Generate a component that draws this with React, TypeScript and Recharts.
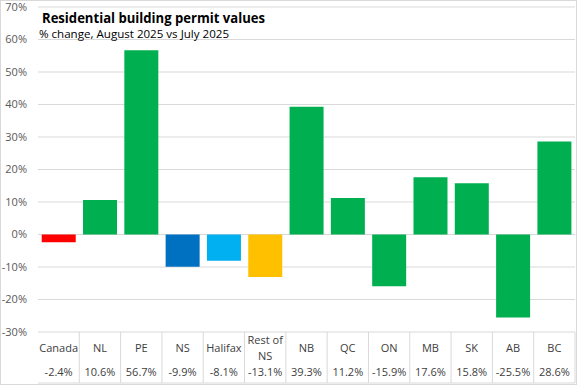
import { BarChart, Bar, XAxis, YAxis, CartesianGrid, Cell } from 'recharts';

// categories and % change values
const regions = ['Canada', 'NL', 'PE', 'NS', 'Halifax', 'Rest of NS', 'NB', 'QC', 'ON', 'MB', 'SK', 'AB', 'BC'];
const changes = [-2.4, 10.6, 56.7, -9.9, -8.1, -13.1, 39.3, 11.2, -15.9, 17.6, 15.8, -25.5, 28.6];
const barColors = ['#ff0000', '#00b050', '#00b050', '#0070c0', '#00b0f0', '#ffc000', '#00b050', '#00b050', '#00b050', '#00b050', '#00b050', '#00b050', '#00b050'];
const yTicks = [-30, -20, -10, 0, 10, 20, 30, 40, 50, 60, 70];

const W = 577;
const H = 385;
const LEFT = 38;
const RIGHT = 2;
const AXIS_H = 53;
const FONT = '"Open Sans", "Noto Sans", sans-serif';

const data = regions.map((name, i) => ({ name, value: changes[i], color: barColors[i] }));
const band = (W - LEFT - RIGHT) / regions.length;
const PLOT_BOTTOM = H - AXIS_H;

// two row table under the plot: region name, then the value
const TableTick = ({ x, payload, index }: any) => {
  const name: string = payload.value;
  const top = PLOT_BOTTOM;
  const lines = name === 'Rest of NS' ? ['Rest of', 'NS'] : [name];
  const v = changes[index];
  return (
    <g>
      <line x1={x + band / 2} x2={x + band / 2} y1={top} y2={top + 51} stroke="#d9d9d9" />
      {index === 0 && <line x1={x - band / 2} x2={W - RIGHT} y1={top + 51} y2={top + 51} stroke="#d9d9d9" />}
      {lines.map((l, k) => (
        <text key={k} x={x} y={top + (lines.length === 2 ? 12 + k * 16 : 20)} textAnchor="middle" fontSize={11} fill="#404040" fontFamily={FONT}>
          {l}
        </text>
      ))}
      <text x={x} y={top + 44} textAnchor="middle" fontSize={11} fill="#404040" fontFamily={FONT}>
        {`${v.toFixed(1)}%`}
      </text>
    </g>
  );
};

export default function App() {
  return (
    <div style={{ position: 'absolute', left: 0, top: 0, width: W, height: H, background: '#fff' }}>
      <BarChart
        width={W}
        height={H}
        data={data}
        margin={{ top: 7, right: RIGHT, bottom: 0, left: 0 }}
        barCategoryGap="9%"
      >
        <CartesianGrid vertical={false} stroke="#d9d9d9" />
        <XAxis
          dataKey="name"
          height={AXIS_H}
          axisLine={false}
          tickLine={false}
          interval={0}
          tick={<TableTick />}
        />
        <YAxis
          width={LEFT}
          domain={[-30, 70]}
          ticks={yTicks}
          axisLine={false}
          tickLine={false}
          tickMargin={5}
          tickFormatter={(v: number) => `${v}%`}
          tick={{ fontSize: 11, fill: '#595959', fontFamily: FONT }}
        />
        <Bar dataKey="value" isAnimationActive={false}>
          {data.map((d, i) => (
            <Cell key={`cell-${i}`} fill={d.color} />
          ))}
        </Bar>
      </BarChart>
      <svg width={W} height={H} style={{ position: 'absolute', left: 0, top: 0, pointerEvents: 'none' }}>
        <text x={42} y={23} fontSize={14.5} fontWeight={700} fill="#000" fontFamily={FONT} textLength={223} lengthAdjust="spacingAndGlyphs">
          Residential building permit values
        </text>
        <text x={39} y={37.5} fontSize={11.5} fill="#000" fontFamily={FONT} textLength={190} lengthAdjust="spacingAndGlyphs">
          % change, August 2025 vs July 2025
        </text>
        <rect x={0.5} y={0.5} width={W - 1} height={H - 1} fill="none" stroke="#d9d9d9" />
      </svg>
    </div>
  );
}
